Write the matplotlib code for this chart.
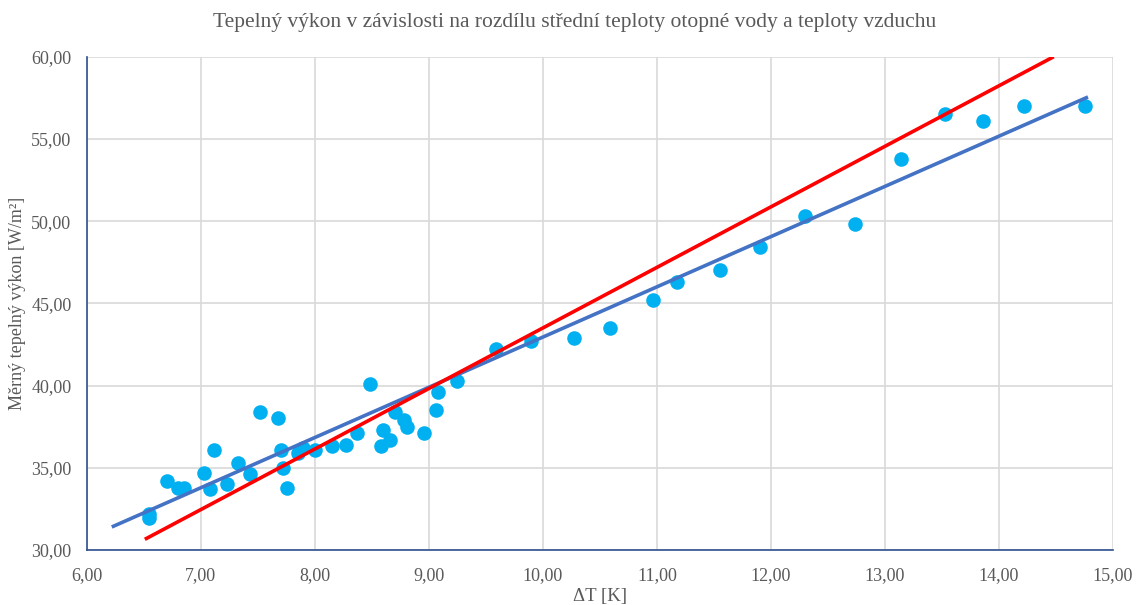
import matplotlib
matplotlib.use("Agg")
import matplotlib.pyplot as plt
from matplotlib.ticker import MultipleLocator, FuncFormatter

plt.rcParams['font.family'] = ['Liberation Serif', 'DejaVu Serif']

dT = [6.55, 6.55, 6.70, 6.80, 6.85, 7.03, 7.08, 7.12, 7.23, 7.33, 7.43, 7.52, 7.68, 7.70,
      7.72, 7.76, 7.85, 7.90, 8.00, 8.15, 8.27, 8.37, 8.48, 8.58, 8.60, 8.66, 8.70, 8.78,
      8.81, 8.96, 9.06, 9.08, 9.25, 9.59, 9.90, 10.27, 10.59, 10.97, 11.18, 11.55, 11.90,
      12.30, 12.74, 13.14, 13.53, 13.86, 14.22, 14.75]
q = [32.2, 31.95, 34.2, 33.8, 33.8, 34.7, 33.7, 36.1, 34.0, 35.3, 34.6, 38.4, 38.0, 36.1,
     35.0, 33.8, 35.9, 36.2, 36.1, 36.3, 36.4, 37.1, 40.1, 36.3, 37.3, 36.7, 38.4, 37.9,
     37.5, 37.1, 38.5, 39.6, 40.3, 42.2, 42.7, 42.9, 43.5, 45.2, 46.3, 47.0, 48.4,
     50.3, 49.8, 53.8, 56.5, 56.1, 57.0, 57.0]

fit_x = [6.22, 14.78]
fit_y = [31.4, 57.55]
ref_x = [6.51, 14.48]
ref_y = [30.65, 60.0]

fig = plt.figure(figsize=(11.36, 6.05), dpi=100)
ax = fig.add_axes([0.0763, 0.0909, 0.9035, 0.8154])

ax.scatter(dT, q, s=110, color='#00B0F0', zorder=3, linewidths=0)
ax.plot(fit_x, fit_y, color='#4472C4', lw=2.6, zorder=4, solid_capstyle='butt')
ax.plot(ref_x, ref_y, color='#FF0000', lw=2.6, zorder=5, solid_capstyle='butt')

ax.set_xlim(6, 15)
ax.set_ylim(30, 60)
ax.xaxis.set_major_locator(MultipleLocator(1))
ax.yaxis.set_major_locator(MultipleLocator(5))
fmt = FuncFormatter(lambda v, p: f"{v:.2f}".replace('.', ','))
ax.xaxis.set_major_formatter(fmt)
ax.yaxis.set_major_formatter(fmt)

ax.grid(True, color='#D9D9D9', lw=1.2, zorder=0)
ax.set_axisbelow(True)
for s in ['top', 'right']:
    ax.spines[s].set_visible(False)
for s in ['left', 'bottom']:
    ax.spines[s].set_color('#2F4F8F')
    ax.spines[s].set_linewidth(1.2)
ax.tick_params(length=0, labelsize=13, colors='#595959')
ax.tick_params(axis='x', pad=12)
ax.tick_params(axis='y', pad=11)

ax.set_xlabel('ΔT [K]', fontsize=13.5, color='#595959', labelpad=3)
ax.set_ylabel('Měrný tepelný výkon [W/m²]', fontsize=13, color='#595959')
ax.yaxis.set_label_coords(-0.059, 0.5)
fig.text(0.506, 0.963,
         'Tepelný výkon v závislosti na rozdílu střední teploty otopné vody a teploty vzduchu',
         fontsize=15.5, color='#595959', ha='center', va='center')

fig.savefig('out.png', dpi=100)
